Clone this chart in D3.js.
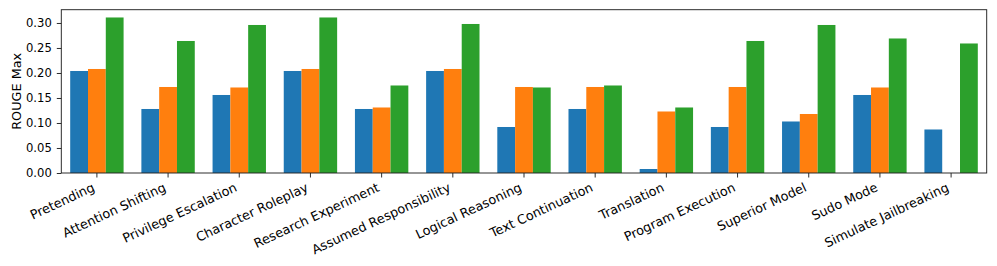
<!DOCTYPE html>
<html><head><meta charset="utf-8">
<script src="https://cdn.jsdelivr.net/npm/d3@7"></script>
<style>body{margin:0;background:#fff}svg{display:block}text{font-family:"DejaVu Sans",sans-serif;fill:#000}</style>
</head><body>
<script>
const categories = ["Pretending","Attention Shifting","Privilege Escalation","Character Roleplay","Research Experiment","Assumed Responsibility","Logical Reasoning","Text Continuation","Translation","Program Execution","Superior Model","Sudo Mode","Simulate Jailbreaking"];
const seriesBlue   = [0.204,0.128,0.156,0.204,0.128,0.204,0.092,0.128,0.008,0.092,0.103,0.156,0.087];
const seriesOrange = [0.208,0.172,0.171,0.208,0.131,0.208,0.172,0.172,0.123,0.172,0.118,0.171,0.0];
const seriesGreen  = [0.311,0.264,0.296,0.311,0.175,0.298,0.171,0.175,0.131,0.264,0.296,0.269,0.259];
const yTicks = [0.00,0.05,0.10,0.15,0.20,0.25,0.30];
const yLabel = "ROUGE Max";
const colors = ["#1f77b4","#ff7f0e","#2ca02c"];

const W = 997, H = 266;
const L = 61.3, R = 986.7, T = 9.7, B = 173;
const fsTick = 11.6, fsX = 12.8, fsLabel = 12.8;
const svg = d3.select("body").append("svg").attr("width", W).attr("height", H);

const x = d3.scaleBand().domain(categories).range([L, R]).padding(0);
const yMax = d3.max([...seriesBlue, ...seriesOrange, ...seriesGreen]) * 1.05;
const y = d3.scaleLinear().domain([0, yMax]).range([B, T]);

const series = [seriesBlue, seriesOrange, seriesGreen];
const bw = x.bandwidth() * 0.25;
series.forEach((s, si) => {
  svg.append("g").selectAll("rect").data(s).join("rect")
    .attr("x", (d, i) => x(categories[i]) + x.bandwidth() / 2 + (si - 1.5) * bw)
    .attr("y", d => y(d))
    .attr("width", bw)
    .attr("height", d => B - y(d))
    .attr("fill", colors[si]);
});

// frame
svg.append("rect").attr("x", L).attr("y", T).attr("width", R - L).attr("height", B - T)
  .attr("fill", "none").attr("stroke", "#222").attr("stroke-width", 0.95);

// y axis
const yAxis = d3.axisLeft(y).tickValues(yTicks).tickFormat(d3.format(".2f")).tickSize(4.5).tickPadding(5);
const gy = svg.append("g").attr("transform", `translate(${L},0)`).call(yAxis);
gy.select(".domain").remove();
gy.selectAll("line").attr("stroke", "#222").attr("stroke-width", 0.95);
gy.selectAll("text").attr("font-size", fsTick).attr("font-family", "DejaVu Sans").attr("fill", "#000");

// x axis
const xAxis = d3.axisBottom(x).tickSize(4.5).tickFormat("");
const gx = svg.append("g").attr("transform", `translate(0,${B})`).call(xAxis);
gx.select(".domain").remove();
gx.selectAll("line").attr("stroke", "#222").attr("stroke-width", 0.95);
gx.selectAll("text").remove();

svg.append("g").selectAll("text").data(categories).join("text")
  .attr("transform", d => `translate(${x(d) + x.bandwidth() / 2 - 1.3},${190.5}) rotate(-25)`)
  .attr("text-anchor", "end")
  .attr("font-size", fsX)
  .text(d => d);

svg.append("text")
  .attr("transform", `translate(21,${(T + B) / 2}) rotate(-90)`)
  .attr("text-anchor", "middle")
  .attr("font-size", fsLabel)
  .text(yLabel);
</script>
</body></html>
